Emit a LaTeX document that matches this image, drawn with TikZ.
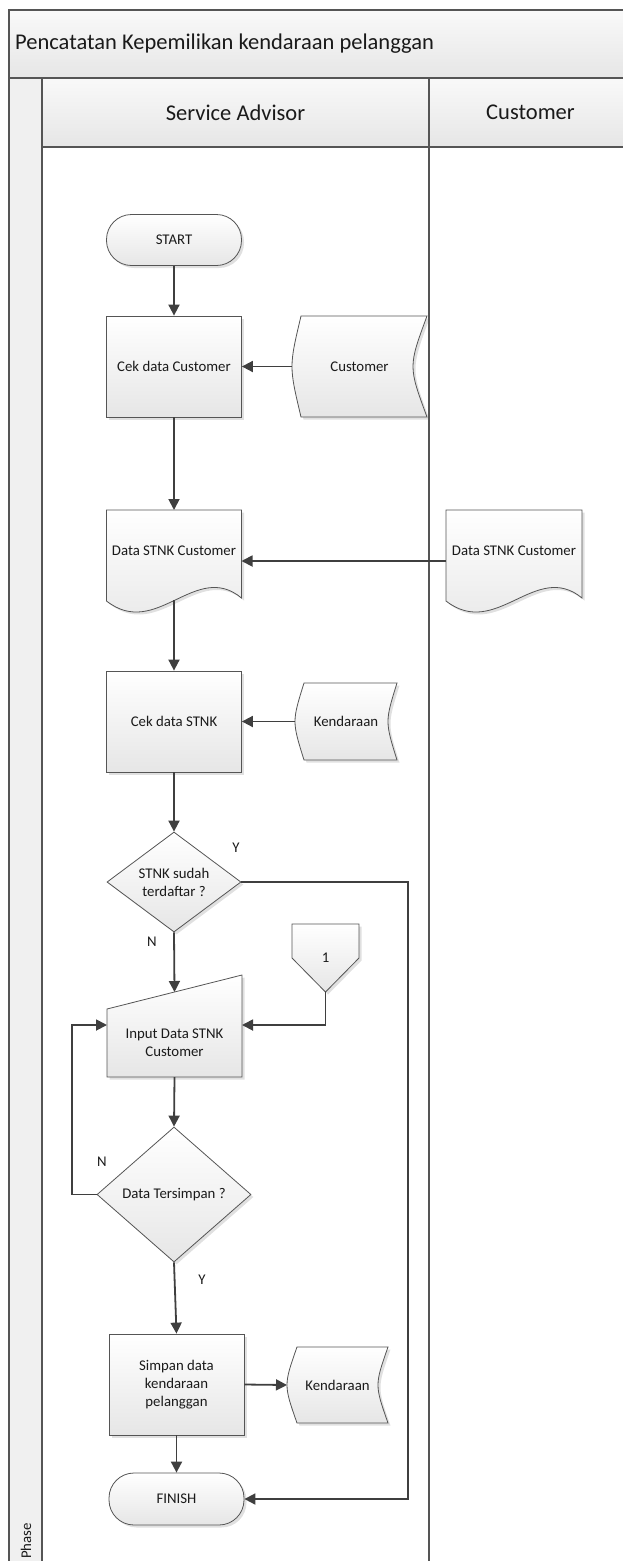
\documentclass[tikz,border=0pt]{standalone}
\usepackage{fontspec}
\setmainfont{Carlito}
\usepackage{tikz}
\usetikzlibrary{arrows.meta,shapes.geometric,backgrounds,calc,shadows}
\definecolor{fcInk}{HTML}{1A1A1A}
\definecolor{fcLine}{HTML}{3F3F3F}
\definecolor{fcEdge}{HTML}{555555}
\definecolor{fcTop}{HTML}{FFFFFF}
\definecolor{fcBottom}{HTML}{E6E6E6}
\definecolor{fcBand}{HTML}{F0F0F0}
\newcommand{\nodefont}{\fontsize{14.8}{18}\selectfont}
\newcommand{\headfont}{\fontsize{22.5}{27}\selectfont}
\tikzset{
  % Light shadow under the shapes
  fcshadow/.style={drop shadow={shadow xshift=2.5pt,shadow yshift=-2.5pt,
    opacity=0.12,fill=black}},
  % Process box
  procbox/.style={rectangle,draw=fcEdge,line width=0.8pt,
    top color=fcTop,bottom color=fcBottom,fcshadow,
    minimum width=135pt,minimum height=101pt,inner sep=2pt,
    align=center,font=\nodefont,text=fcInk},
  % Terminal (start / finish)
  termbox/.style={procbox,rounded corners=25pt,minimum height=51pt},
  % Decision
  decbox/.style={diamond,draw=fcEdge,line width=0.8pt,
    top color=fcTop,bottom color=fcBottom,fcshadow,inner sep=0pt,
    align=center,font=\nodefont,text=fcInk},
  % Text only, outline drawn on the background layer
  shapetext/.style={rectangle,inner sep=0pt,outer sep=0pt,
    align=center,font=\nodefont,text=fcInk},
  % Outline of the drawn shapes
  outline/.style={draw=fcEdge,line width=0.8pt,fcshadow,
    top color=fcTop,bottom color=fcBottom},
  % Arrows
  arr/.style={-{Triangle[length=11pt,width=11pt]},line width=1.8pt,color=fcLine},
  frame/.style={draw=fcEdge,line width=1.2pt},
  lbl/.style={font=\nodefont,text=fcInk,inner sep=0pt},
}

\begin{document}
\begin{tikzpicture}[x=1pt,y=-1pt]
  \useasboundingbox (0,0) rectangle (623,1561);

  % Pool and lanes
  \path[top color=fcTop!60!fcBand,bottom color=fcBottom] (9,10) rectangle (640,78);
  \path[top color=fcTop!60!fcBand,bottom color=fcBottom] (42,78) rectangle (640,147);
  \fill[fcBand] (9,78) rectangle (42,1580);
  \draw[frame] (640,10) -- (9,10) -- (9,1580);
  \draw[frame] (9,78) -- (640,78);
  \draw[frame] (42,78) -- (42,1580);
  \draw[frame] (42,147) -- (640,147);
  \draw[frame] (429,78) -- (429,1580);

  \node[anchor=west,font=\headfont,text=fcInk,inner sep=0pt] (pool) at (15,44)
    {Pencatatan Kepemilikan kendaraan pelanggan};
  \node[font=\headfont,text=fcInk] (laneSA) at (235.5,112.5) {Service Advisor};
  \node[font=\headfont,text=fcInk] (laneCu) at (530.5,112.5) {Customer};
  \node[lbl,rotate=90,anchor=west] (phase) at (26,1559) {Phase};

  % Flow
  \node[termbox] (start) at (174,240) {START};
  \node[procbox] (cekcust) at (174,366.5) {Cek data Customer};
  \node[shapetext,minimum width=135pt,minimum height=101pt] (dbcust) at (359.5,366.5) {Customer};
  \node[shapetext,minimum width=135pt,minimum height=82pt] (stnk) at (174,551) {Data STNK Customer};
  \node[shapetext,minimum width=136pt,minimum height=82pt] (stnkcu) at (514,551) {Data STNK Customer};
  \node[procbox] (cekstnk) at (174,721.5) {Cek data STNK};
  \node[shapetext,minimum width=102pt,minimum height=77pt] (dbkend) at (346,721.5) {Kendaraan};
  \node[decbox,minimum width=134pt,minimum height=100pt] (cekdaftar) at (174,882)
    {STNK sudah\\terdaftar ?};
  \node[shapetext,minimum width=67pt,minimum height=68pt] (page1) at (325.5,958) {1};
  \node[shapetext,minimum width=135pt,minimum height=68pt] (input) at (174.5,1043)
    {Input Data STNK\\Customer};
  \node[decbox,minimum width=154pt,minimum height=135pt] (cektersimpan) at (174,1194.5)
    {Data Tersimpan ?};
  \node[procbox] (simpan) at (176.5,1384.5) {Simpan data\\kendaraan\\pelanggan};
  \node[shapetext,minimum width=101pt,minimum height=76pt] (dbkend2) at (337.5,1385) {Kendaraan};
  \node[termbox,minimum height=52pt] (finish) at (176.5,1499) {FINISH};

  \coordinate (ybend) at (408,0);
  \coordinate (nbend) at (72,0);

  % Shapes behind the texts
  \begin{scope}[on background layer]
    \foreach \s/\l/\r in {dbcust/9/14,dbkend/9/9,dbkend2/10/10}
      \path[outline] ($(\s.north west)+(\l,0)$) -- (\s.north east)
        .. controls ($(\s.east)+({-4*\r/3},0)$) .. (\s.south east)
        -- ($(\s.south west)+(\l,0)$)
        .. controls ($(\s.west)+({-\l/3},0)$) .. ($(\s.north west)+(\l,0)$) -- cycle;
    \foreach \s in {stnk,stnkcu}
      \path[outline] (\s.north west) -- (\s.north east) -- ($(\s.south east)+(0,6)$)
        .. controls ($(\s.south west)!0.66!(\s.south east)+(0,-32)$)
        and ($(\s.south west)!0.37!(\s.south east)+(0,48)$) .. ($(\s.south west)+(0,9)$)
        -- cycle;
    \path[outline] (input.north west) -- ([yshift=34pt]input.north east)
      -- (input.south east) -- (input.south west) -- cycle;
    \path[outline] (page1.north west) -- (page1.north east) -- (page1.east)
      -- (page1.south) -- (page1.west) -- cycle;
  \end{scope}

  % Connectors
  \draw[arr] (start) -- (cekcust);
  \draw[arr] (dbcust.west) -- (cekcust.east);
  \draw[arr] (cekcust) -- (stnk);
  \draw[arr] ([yshift=-10pt]stnkcu.west) -- ([yshift=-10pt]stnk.east);
  \draw[arr] ([yshift=-8pt]stnk.south) -- (cekstnk.north);
  \draw[arr] (dbkend.west) -- (cekstnk.east);
  \draw[arr] (cekstnk) -- (cekdaftar);
  \draw[arr] (cekdaftar.south) -- ([yshift=17pt]input.north);
  \draw[arr] (page1.south) |- ([yshift=18pt]input.east);
  \draw[arr] (input.south) -- (cektersimpan.north);
  \draw[arr] (cektersimpan.west) -- (cektersimpan.west -| nbend)
    |- ([yshift=18pt]input.west);
  \draw[arr] (cektersimpan.south) -- (simpan.north);
  \draw[arr] (simpan.east) -- (dbkend2.west);
  \draw[arr] (simpan) -- (finish);
  \draw[arr] (cekdaftar.east) -- (cekdaftar.east -| ybend) |- (finish.east);

  % Branch labels
  \node[lbl] (ylbl1) at (236,848) {Y};
  \node[lbl] (nlbl1) at (152,942) {N};
  \node[lbl] (nlbl2) at (102,1162) {N};
  \node[lbl] (ylbl2) at (202,1280) {Y};
\end{tikzpicture}
\end{document}
